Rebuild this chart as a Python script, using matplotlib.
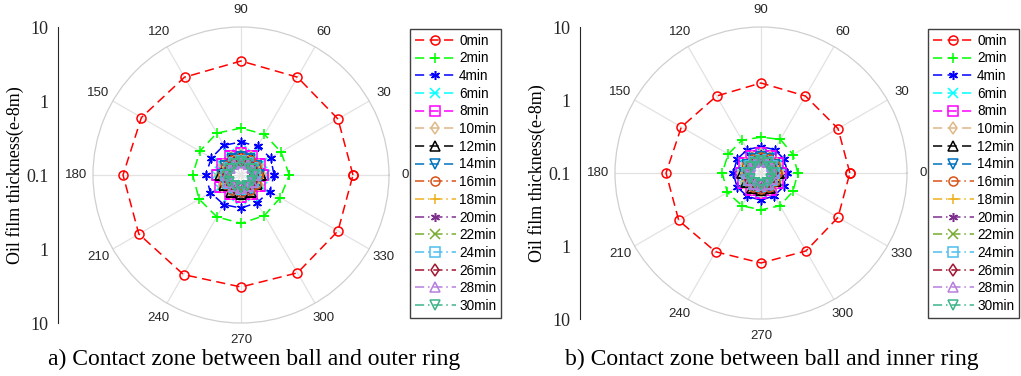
import numpy as np
import matplotlib.pyplot as plt

plt.rcParams['font.family'] = ['Liberation Sans', 'DejaVu Sans']

# angles (deg) of the 12 measuring points
angles = [0, 30, 60, 90, 120, 150, 180, 210, 240, 270, 300, 330]
labels = ['0min', '2min', '4min', '6min', '8min', '10min', '12min', '14min',
          '16min', '18min', '20min', '22min', '24min', '26min', '28min', '30min']

# oil film thickness (e-8 m), contact zone ball / outer ring
outer = [
    [3.26, 3.26, 3.36, 3.47, 3.36, 3.58, 3.93, 3.93, 3.58, 3.26, 3.36, 3.26],
    [0.45, 0.42, 0.43, 0.43, 0.45, 0.44, 0.45, 0.45, 0.45, 0.45, 0.43, 0.41],
    [0.28, 0.29, 0.28, 0.28, 0.29, 0.29, 0.30, 0.30, 0.29, 0.28, 0.27, 0.28],
    [0.21, 0.21, 0.21, 0.21, 0.21, 0.21, 0.22, 0.22, 0.21, 0.21, 0.21, 0.21],
    [0.20, 0.20, 0.20, 0.20, 0.20, 0.20, 0.21, 0.21, 0.20, 0.20, 0.20, 0.20],
    [0.19, 0.19, 0.19, 0.19, 0.19, 0.19, 0.20, 0.20, 0.19, 0.19, 0.19, 0.19],
    [0.185, 0.18, 0.185, 0.18, 0.185, 0.18, 0.19, 0.185, 0.185, 0.18, 0.185, 0.18],
    [0.175, 0.175, 0.175, 0.175, 0.175, 0.175, 0.18, 0.18, 0.175, 0.175, 0.175, 0.175],
    [0.17, 0.17, 0.17, 0.17, 0.17, 0.17, 0.175, 0.175, 0.17, 0.17, 0.17, 0.17],
    [0.165, 0.165, 0.165, 0.165, 0.165, 0.165, 0.17, 0.17, 0.165, 0.165, 0.165, 0.165],
    [0.16, 0.16, 0.16, 0.16, 0.16, 0.16, 0.165, 0.165, 0.16, 0.16, 0.16, 0.16],
    [0.158, 0.158, 0.158, 0.158, 0.158, 0.158, 0.162, 0.162, 0.158, 0.158, 0.158, 0.158],
    [0.155, 0.155, 0.155, 0.155, 0.155, 0.155, 0.16, 0.16, 0.155, 0.155, 0.155, 0.155],
    [0.152, 0.152, 0.152, 0.152, 0.152, 0.152, 0.156, 0.156, 0.152, 0.152, 0.152, 0.152],
    [0.15, 0.15, 0.15, 0.15, 0.15, 0.15, 0.154, 0.154, 0.15, 0.15, 0.15, 0.15],
    [0.148, 0.148, 0.148, 0.148, 0.148, 0.148, 0.152, 0.152, 0.148, 0.148, 0.148, 0.148],
]

# oil film thickness (e-8 m), contact zone ball / inner ring
inner = [
    [1.65, 1.65, 1.65, 1.71, 1.65, 1.82, 2.00, 2.00, 1.76, 1.71, 1.71, 1.65],
    [0.32, 0.32, 0.34, 0.31, 0.33, 0.33, 0.34, 0.34, 0.33, 0.32, 0.33, 0.32],
    [0.23, 0.235, 0.235, 0.23, 0.235, 0.24, 0.24, 0.24, 0.235, 0.235, 0.23, 0.23],
    [0.19, 0.19, 0.19, 0.19, 0.19, 0.19, 0.195, 0.195, 0.19, 0.19, 0.19, 0.19],
    [0.185, 0.185, 0.185, 0.185, 0.185, 0.185, 0.19, 0.19, 0.185, 0.185, 0.185, 0.185],
    [0.18, 0.18, 0.18, 0.18, 0.18, 0.18, 0.185, 0.185, 0.18, 0.18, 0.18, 0.18],
    [0.175, 0.17, 0.175, 0.17, 0.175, 0.17, 0.18, 0.175, 0.175, 0.17, 0.175, 0.17],
    [0.168, 0.168, 0.168, 0.168, 0.168, 0.168, 0.172, 0.172, 0.168, 0.168, 0.168, 0.168],
    [0.164, 0.164, 0.164, 0.164, 0.164, 0.164, 0.168, 0.168, 0.164, 0.164, 0.164, 0.164],
    [0.16, 0.16, 0.16, 0.16, 0.16, 0.16, 0.164, 0.164, 0.16, 0.16, 0.16, 0.16],
    [0.157, 0.157, 0.157, 0.157, 0.157, 0.157, 0.16, 0.16, 0.157, 0.157, 0.157, 0.157],
    [0.154, 0.154, 0.154, 0.154, 0.154, 0.154, 0.158, 0.158, 0.154, 0.154, 0.154, 0.154],
    [0.152, 0.152, 0.152, 0.152, 0.152, 0.152, 0.155, 0.155, 0.152, 0.152, 0.152, 0.152],
    [0.15, 0.15, 0.15, 0.15, 0.15, 0.15, 0.153, 0.153, 0.15, 0.15, 0.15, 0.15],
    [0.148, 0.148, 0.148, 0.148, 0.148, 0.148, 0.151, 0.151, 0.148, 0.148, 0.148, 0.148],
    [0.146, 0.146, 0.146, 0.146, 0.146, 0.146, 0.149, 0.149, 0.146, 0.146, 0.146, 0.146],
]

colors = ['#FF0000', '#00FF00', '#0000FF', '#00FFFF', '#FF00FF', '#DEB887', '#000000', '#0072BD',
          '#D95319', '#EDB120', '#7E2F8E', '#77AC30', '#4DBEEE', '#A2142F', '#B57EDC', '#3DB489']
markers = ['o', '+', (6, 2, 0), 'x', 's', 'd', '^', 'v', 'o', '+', (6, 2, 0), 'x', 's', 'd', '^', 'v']
styles = [(0, (6, 3.5))] * 8 + [(0, (6, 2.5, 1, 2.5))] * 8

captions = ['a) Contact zone between ball and outer ring', 'b) Contact zone between ball and inner ring']

fig = plt.figure(figsize=(10.21, 3.76), dpi=100)
W, H = 1021, 376

# center x, center y, radius, scale-axis x, caption x, legend x (pixels)
panels = [(241, 175, 148, 58, 254, 410), (761, 173, 146, 580, 772, 928)]
theta = np.deg2rad(angles + [angles[0]])

for k, (data, (cx, cy, R, axx, capx, legx)) in enumerate(zip([outer, inner], panels)):
    ax = fig.add_axes([(cx - R) / W, 1 - (cy + R) / H, 2 * R / W, 2 * R / H], projection='polar')
    ax.set_rscale('log')
    ax.set_rlim(0.1, 10)
    hs = []
    for i, vals in enumerate(data):
        r = vals + [vals[0]]
        ln, = ax.plot(theta, r, linestyle=styles[i], color=colors[i], marker=markers[i],
                      markersize=6.5, markerfacecolor='none', markeredgewidth=1.1, lw=1.1,
                      label=labels[i])
        hs.append(ln)
    ax.set_thetagrids(angles, [str(a) for a in angles], fontsize=9.5, color='#262626')
    ax.tick_params(axis='x', pad=1.5)
    ax.yaxis.grid(False)
    ax.set_yticklabels([])
    ax.xaxis.grid(True, color='#e2e2e2', lw=0.9)
    ax.spines['polar'].set_color('#cfcfcf')
    ax.spines['polar'].set_linewidth(0.9)

    # the vertical radius scale on the left
    ay = fig.add_axes([axx / W, 1 - (cy + R) / H, 0.0001, 2 * R / H])
    for s in ['top', 'right', 'bottom']:
        ay.spines[s].set_visible(False)
    ay.spines['left'].set_color('#262626')
    ay.spines['left'].set_linewidth(0.8)
    ay.set_xticks([])
    ay.set_ylim(-2, 2)
    ay.set_yticks([-2, -1, 0, 1, 2])
    ay.set_yticklabels(['10', '1', '0.1', '1', '10'], family='Liberation Serif', fontsize=13)
    ay.tick_params(axis='y', length=0, pad=7, colors='#262626')
    ay.set_ylabel('Oil film thickness(e-8m)', family='Liberation Serif', fontsize=13, labelpad=1.5)

    fig.legend(handles=hs, loc='upper left', bbox_to_anchor=(legx / W, 1 - 29 / H),
               fontsize=9.8, fancybox=False, edgecolor='#404040', framealpha=1,
               handlelength=3.0, labelspacing=0.27, borderpad=0.35, handletextpad=0.25,
               borderaxespad=0)
    fig.text(capx / W, 1 - 359 / H, captions[k], ha='center', va='center',
             family='Liberation Serif', fontsize=17)

fig.savefig('out.png', dpi=100)
